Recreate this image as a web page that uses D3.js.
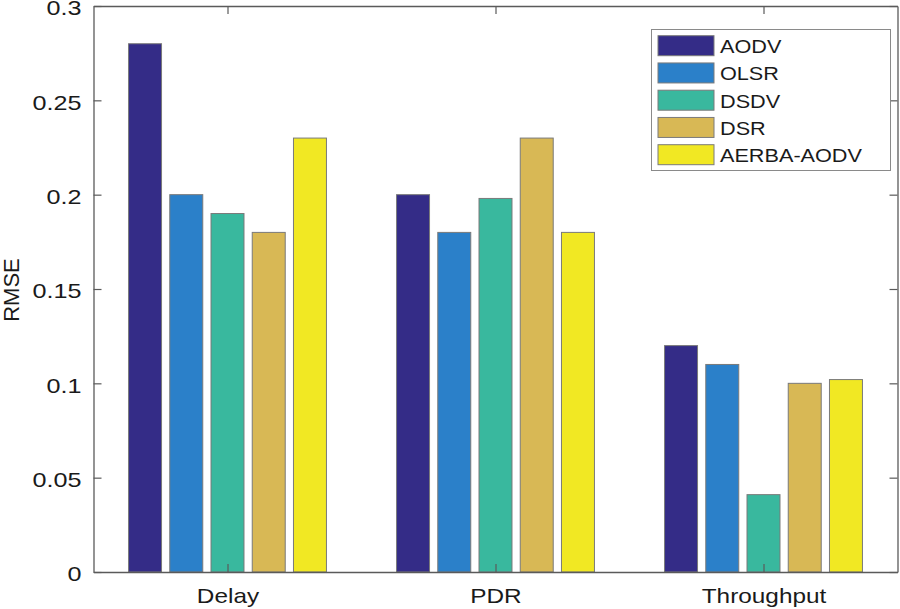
<!DOCTYPE html>
<html><head><meta charset="utf-8">
<script src="https://cdn.jsdelivr.net/npm/d3@7"></script>
<style>body{margin:0;background:#fff}svg{display:block}text{font-family:"Liberation Sans",Arial,sans-serif;fill:#1a1a1a}</style>
</head><body>
<svg id="c" width="900" height="609"></svg>
<script>
const categories = ["Delay", "PDR", "Throughput"];
const seriesNames = ["AODV", "OLSR", "DSDV", "DSR", "AERBA-AODV"];
const AODV = [0.28, 0.20, 0.12];
const OLSR = [0.20, 0.18, 0.11];
const DSDV = [0.19, 0.198, 0.041];
const DSR = [0.18, 0.23, 0.10];
const AERBA_AODV = [0.23, 0.18, 0.102];
const yTicks = [0, 0.05, 0.1, 0.15, 0.2, 0.25, 0.3];
const yTickLabels = ["0", "0.05", "0.1", "0.15", "0.2", "0.25", "0.3"];
const colors = ["#342c87", "#2b80c9", "#39b89e", "#d8b855", "#f1e823"];
const seriesValues = [AODV, OLSR, DSDV, DSR, AERBA_AODV];

const svg = d3.select("#c");
const L = 93.5, R = 897.5, T = 6, B = 572;
const x = d3.scaleLinear().domain([0.5, 3.5]).range([L, R]);
const y = d3.scaleLinear().domain([0, 0.3]).range([B, T]);
const nS = seriesNames.length;
const groupW = Math.min(0.8, nS / (nS + 1.5));
const step = groupW / nS;
const barW = step * 0.8;

const g = svg.append("g");
categories.forEach((c, i) => {
  seriesValues.forEach((vals, s) => {
    const cx = (i + 1) - groupW / 2 + step * (s + 0.5);
    g.append("rect")
      .attr("x", x(cx - barW / 2)).attr("width", x(cx + barW / 2) - x(cx - barW / 2))
      .attr("y", y(vals[i])).attr("height", y(0) - y(vals[i]))
      .attr("fill", colors[s]).attr("stroke", "#7a7a7a").attr("stroke-width", 1);
  });
});

const axisColor = "#5a5a5a";
const yAxisL = d3.axisLeft(y).tickValues(yTicks).tickFormat((d, i) => yTickLabels[i]).tickSizeInner(-8).tickSizeOuter(0).tickPadding(12);
const gl = svg.append("g").attr("transform", `translate(${L},0)`).call(yAxisL);
const yAxisR = d3.axisRight(y).tickValues(yTicks).tickFormat("").tickSizeInner(-8).tickSizeOuter(0);
const gr = svg.append("g").attr("transform", `translate(${R},0)`).call(yAxisR);
const xAxisB = d3.axisBottom(x).tickValues([1, 2, 3]).tickFormat((d, i) => categories[i]).tickSizeInner(-8).tickSizeOuter(0).tickPadding(16);
const gb = svg.append("g").attr("transform", `translate(0,${B})`).call(xAxisB);
const xAxisT = d3.axisTop(x).tickValues([1, 2, 3]).tickFormat("").tickSizeInner(-8).tickSizeOuter(0);
const gt = svg.append("g").attr("transform", `translate(0,${T})`).call(xAxisT);
[gl, gr, gb, gt].forEach(a => {
  a.select(".domain").attr("stroke", axisColor).attr("stroke-width", 1.3);
  a.selectAll(".tick line").attr("stroke", axisColor).attr("stroke-width", 1.2);
});
gl.selectAll(".tick text").attr("font-size", 20).attr("fill", "#1a1a1a")
  .attr("font-family", "Liberation Sans, Arial, sans-serif")
  .each(function () {
    const t = d3.select(this);
    const xx = +t.attr("x");
    t.attr("x", null).attr("transform", `translate(${xx},2.5) scale(1.26,1)`);
  });
gb.selectAll(".tick text").attr("font-size", 21).attr("fill", "#1a1a1a")
  .attr("font-family", "Liberation Sans, Arial, sans-serif")
  .attr("transform", "scale(1.16,1)");

svg.append("text").attr("transform", `translate(18.5,290) rotate(-90)`)
  .attr("text-anchor", "middle").attr("font-size", 22).text("RMSE");

const lg = svg.append("g");
lg.append("rect").attr("x", 651.5).attr("y", 29.5).attr("width", 239).attr("height", 141)
  .attr("fill", "#fff").attr("stroke", "#8a8a8a").attr("stroke-width", 1);
seriesNames.forEach((n, s) => {
  const yy = 35.7 + s * 27.25;
  lg.append("rect").attr("x", 658).attr("y", yy).attr("width", 56).attr("height", 20)
    .attr("fill", colors[s]).attr("stroke", "#7a7a7a");
  lg.append("text").attr("transform", `translate(720,${yy + 17.5}) scale(1.14,1)`)
    .attr("font-size", 19).text(n);
});
</script>
</body></html>
